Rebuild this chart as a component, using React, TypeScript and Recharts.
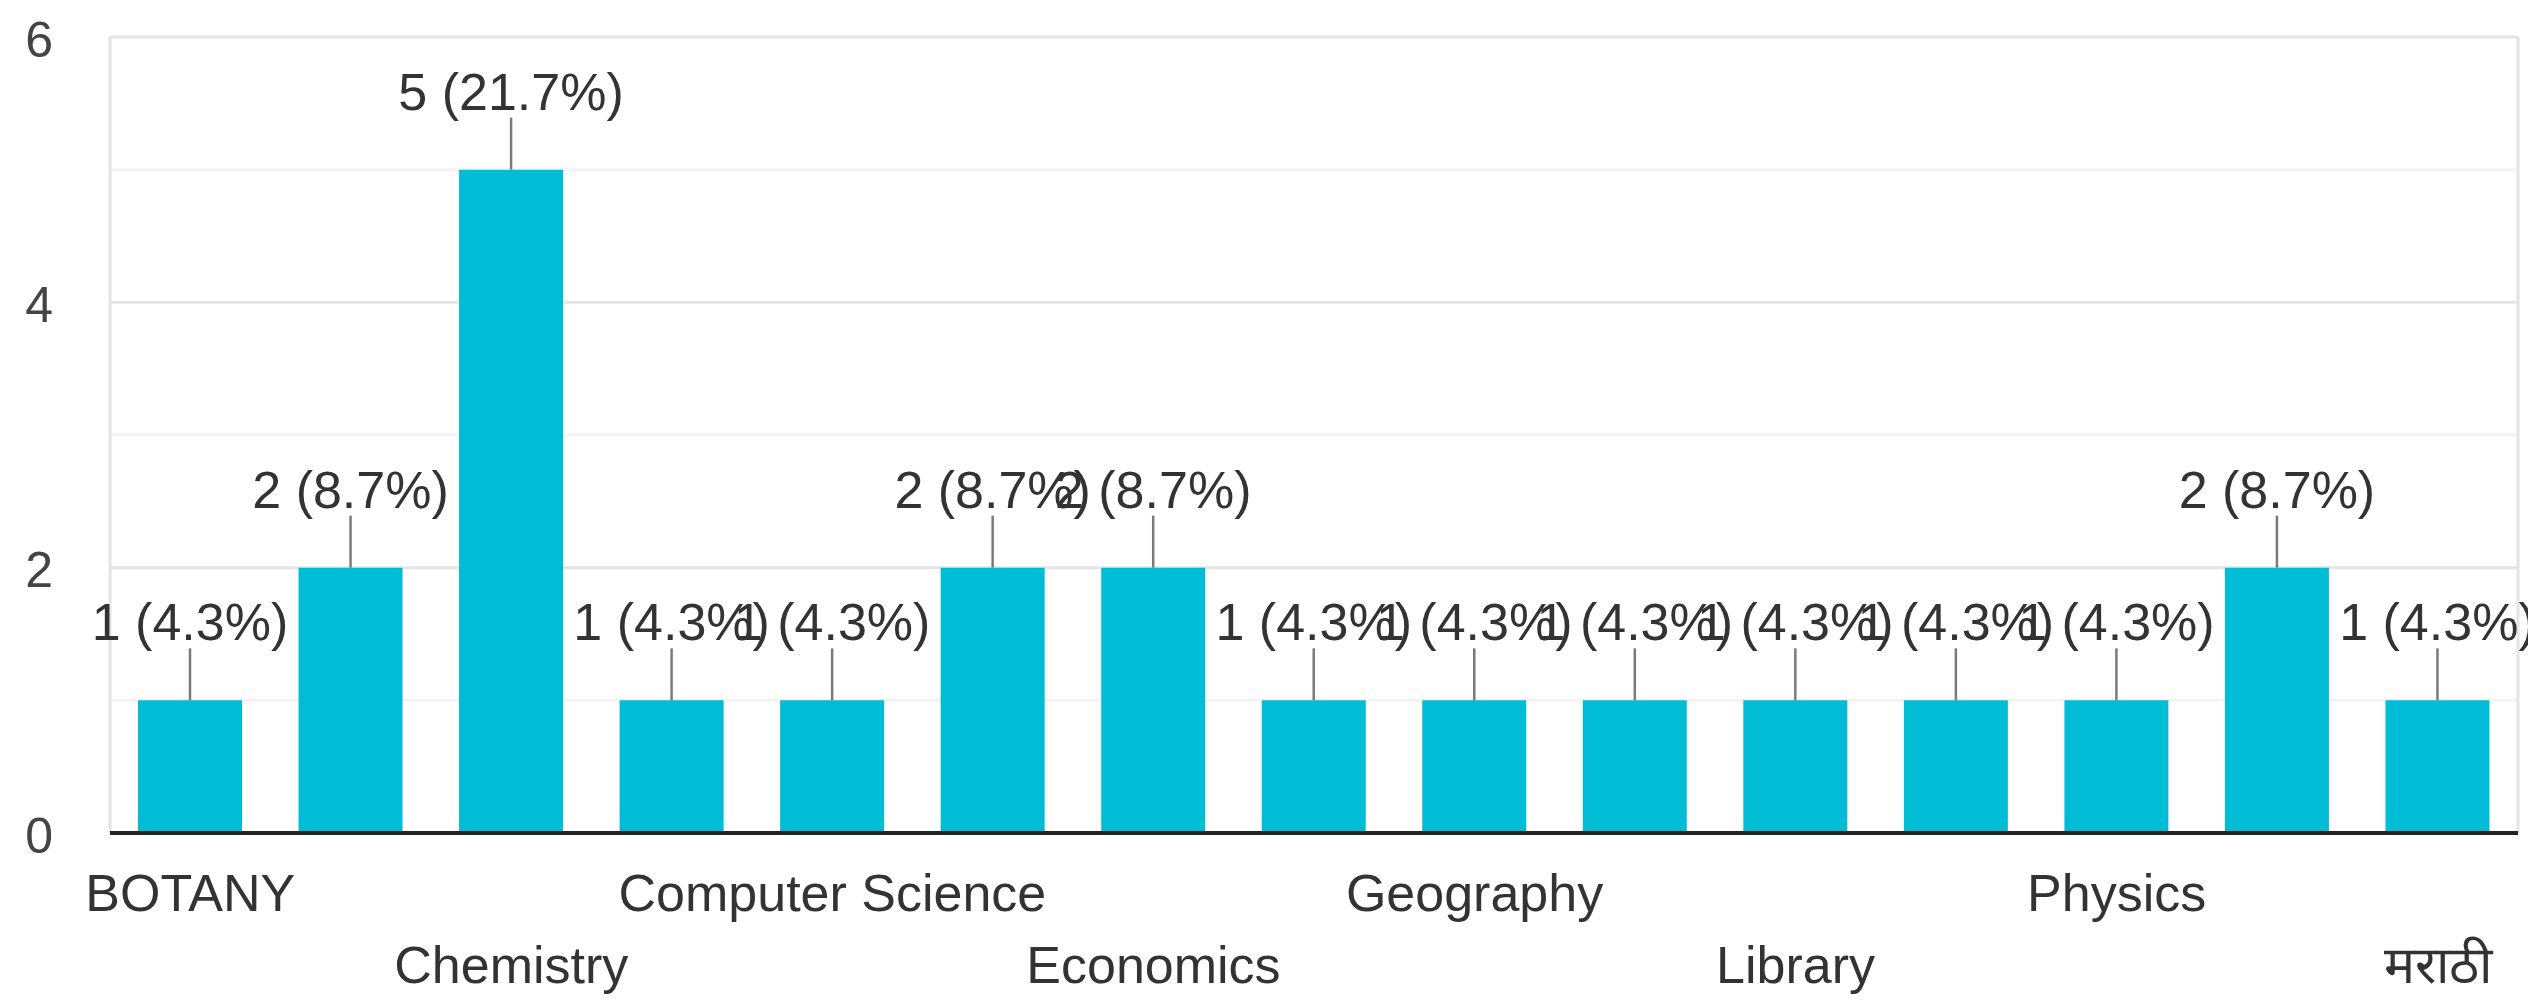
import React from "react";
import { BarChart, Bar, XAxis, YAxis, CartesianGrid, ReferenceLine, LabelList } from "recharts";

// Responses per department (only every other name shows on the axis)
const subjects = [
  "BOTANY",
  "Botany",
  "Chemistry",
  "Commerce",
  "Computer Science",
  "Computer science",
  "Economics",
  "English",
  "Geography",
  "History",
  "Library",
  "Mathematics",
  "Physics",
  "Zoology",
  "मराठी",
];
const responses = [1, 2, 5, 1, 1, 2, 2, 1, 1, 1, 1, 1, 1, 2, 1];
const yTicks = [0, 2, 4, 6];
const minorTicks = [1, 3, 5];

const total = responses.reduce((a, b) => a + b, 0);
const data = subjects.map((name, i) => ({ name, count: responses[i] }));

const FONT = "'Liberation Sans', Arial, sans-serif";
const BAR_COLOR = "#00bcd4";

// value label with a short leader line above the bar
function CountLabel(props: any) {
  const { x, y, width, value } = props;
  const cx = Number(x) + Number(width) / 2;
  const top = Number(y);
  const pct = ((Number(value) / total) * 100).toFixed(1);
  return (
    <g>
      <line x1={cx} x2={cx} y1={top} y2={top - 52} stroke="#7a7a7a" strokeWidth={2.5} />
      <text x={cx} y={top - 60} textAnchor="middle" fontSize={52} fill="#333" fontFamily={FONT}>
        {`${value} (${pct}%)`}
      </text>
    </g>
  );
}

// x labels: every second category, staggered over two rows
function SubjectTick(props: any) {
  const { x, y, payload } = props;
  const i = payload?.index ?? props.index;
  if (i % 2 === 1) return <g />;
  const row = (i / 2) % 2;
  return (
    <text
      x={x}
      y={y + (row === 0 ? 78 : 150)}
      textAnchor="middle"
      fontSize={52}
      fill="#333"
      fontFamily={FONT}
    >
      {payload.value}
    </text>
  );
}

// minor gridlines at the odd values
function minorLines(p: any) {
  const scale = p?.yAxis?.scale;
  if (typeof scale === "function") return minorTicks.map((t) => scale(t));
  const { top, height } = p.offset;
  const max = yTicks[yTicks.length - 1];
  return minorTicks.map((t) => top + height * (1 - t / max));
}

export default function App() {
  return (
    <div
      style={{
        position: "absolute",
        left: 0,
        top: 0,
        width: 2528,
        height: 1002,
        overflow: "hidden",
        background: "#fff",
      }}
    >
      <BarChart
        width={2528}
        height={1002}
        data={data}
        margin={{ top: 37, right: 10, left: 0, bottom: 0 }}
        barSize={104}
      >
        <CartesianGrid
          vertical={false}
          stroke="#f3f3f3"
          strokeWidth={3}
          horizontalCoordinatesGenerator={minorLines}
        />
        <CartesianGrid
          stroke="#e4e4e4"
          strokeWidth={3}
          verticalCoordinatesGenerator={(p: any) => [p.offset.left, p.offset.left + p.offset.width]}
        />
        <XAxis
          dataKey="name"
          interval={0}
          axisLine={false}
          tickLine={false}
          tickSize={0}
          tickMargin={0}
          height={169}
          tick={<SubjectTick />}
        />
        <YAxis
          domain={[0, 6]}
          ticks={yTicks}
          width={110}
          axisLine={false}
          tickLine={false}
          tickSize={0}
          tickMargin={57}
          tick={{ fontSize: 50, fill: "#444", fontFamily: FONT, dy: 2 }}
        />
        <Bar dataKey="count" fill={BAR_COLOR} isAnimationActive={false}>
          <LabelList dataKey="count" content={<CountLabel />} />
        </Bar>
        <ReferenceLine y={0} stroke="#222" strokeWidth={4} />
      </BarChart>
    </div>
  );
}
